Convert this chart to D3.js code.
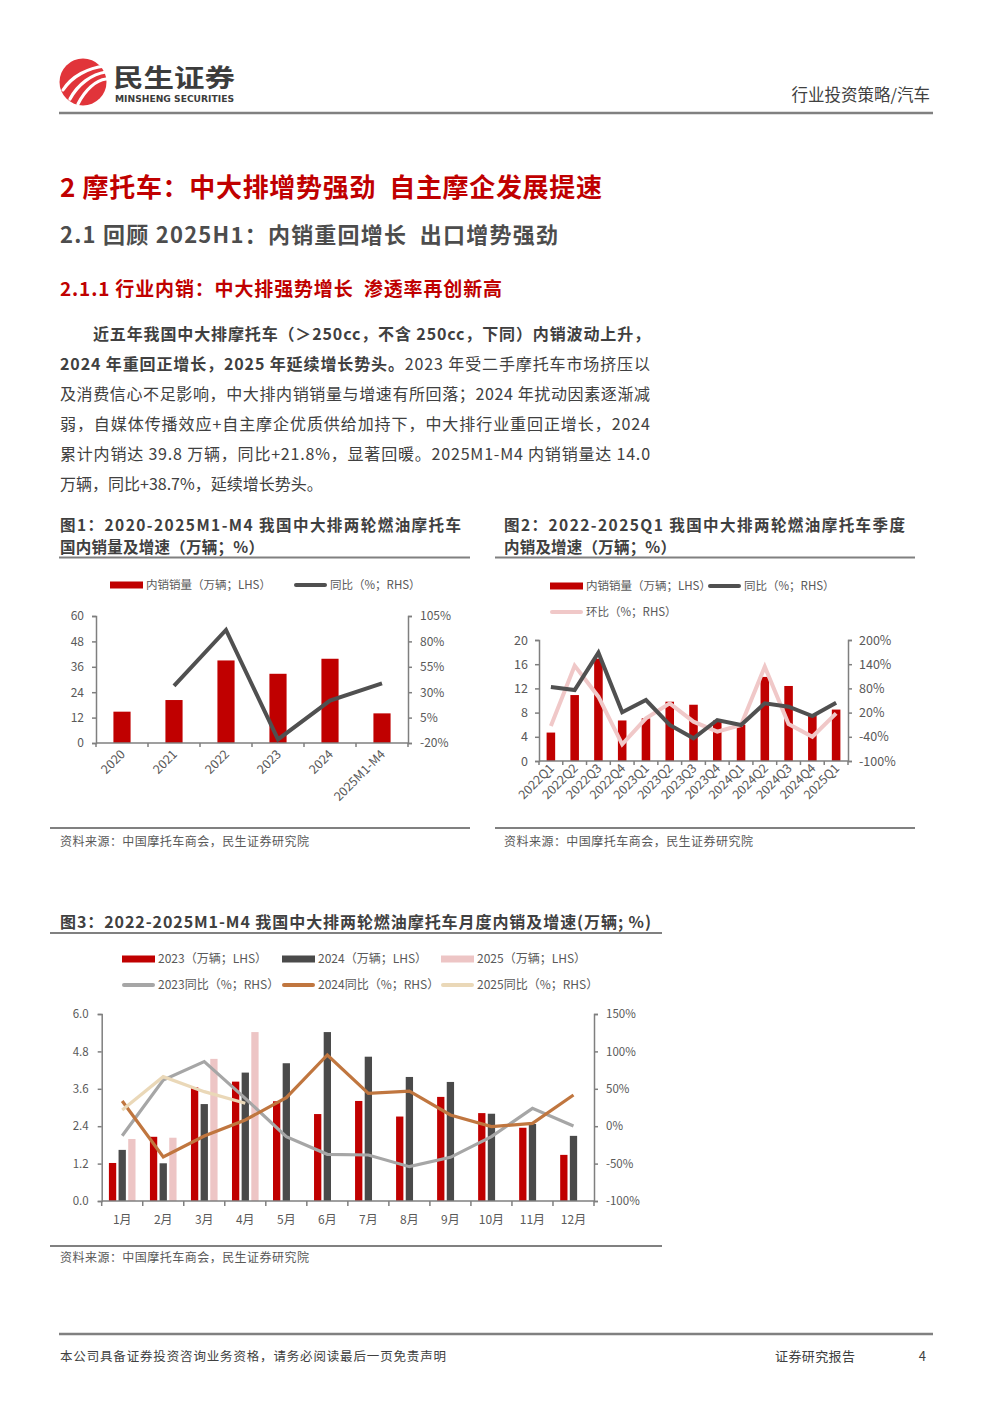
<!DOCTYPE html>
<html><head><meta charset="utf-8">
<script src="https://cdn.jsdelivr.net/npm/d3@7/dist/d3.min.js"></script>
<style>
html,body{margin:0;padding:0;background:#fff;}
svg{display:block;font-family:"Noto Sans CJK SC","Noto Sans",sans-serif;}
</style></head><body>
<svg id="page" width="992" height="1403"></svg>
<script>
// ---------- DATA ----------
const c1Categories = ["2020","2021","2022","2023","2024","2025M1-M4"];
const c1Sales = [14.8, 20.3, 39.0, 32.7, 39.8, 14.0];
const c1Yoy = [null, 36.3, 91.3, -16.5, 21.8, 38.7];
const c1LeftTicks = [0, 12, 24, 36, 48, 60];
const c1RightTicks = [-20, 5, 30, 55, 80, 105];

const c2Categories = ["2022Q1","2022Q2","2022Q3","2022Q4","2023Q1","2023Q2","2023Q3","2023Q4","2024Q1","2024Q2","2024Q3","2024Q4","2025Q1"];
const c2Sales = [4.7, 10.9, 16.9, 6.7, 7.05, 9.8, 9.3, 6.7, 6.0, 13.9, 12.4, 7.6, 8.5];
const c2Yoy = [83.5, 76, 168.6, 20.7, 51.2, -10.7, -43.8, 1.6, -10.7, 43, 34.7, 11.6, 44.6];
const c2Qoq = [-13.2, 136.4, 59.5, -58.7, 5.8, 43, -2.5, -27.3, -10.7, 133.9, -8.3, -39.7, 18.2];
const c2LeftTicks = [0, 4, 8, 12, 16, 20];
const c2RightTicks = [-100, -40, 20, 80, 140, 200];

const c3Months = ["1月","2月","3月","4月","5月","6月","7月","8月","9月","10月","11月","12月"];
const c3Sales2023 = [1.22, 2.06, 3.65, 3.83, 3.20, 2.79, 3.21, 2.71, 3.34, 2.82, 2.35, 1.48];
const c3Sales2024 = [1.64, 1.21, 3.11, 4.12, 4.42, 5.42, 4.63, 3.98, 3.82, 2.80, 2.47, 2.09];
const c3Sales2025 = [1.99, 2.03, 4.56, 5.42];
const c3Yoy2023 = [-12.7, 61.8, 86.3, 37.2, -14, -37.6, -38.5, -54.1, -41.6, -14, 23.9, 0.3];
const c3Yoy2024 = [33.7, -41.2, -13.1, 8.3, 38.1, 95.2, 43.9, 47, 15, -0.6, 3.8, 41.7];
const c3Yoy2025 = [21.6, 66.2, 46.2, 30.6];
const c3LeftTicks = [0, 1.2, 2.4, 3.6, 4.8, 6.0];
const c3RightTicks = [-100, -50, 0, 50, 100, 150];

// ---------- STYLE ----------
const RED = "#C00000", PINK = "#EDC5C5", GRAY = "#A6A6A6", BROWN = "#C0763F", BEIGE = "#EAD8B8";
const AX = "#7F7F7F", TXT = "#595959";

const svg = d3.select("#page");

function justify(sel, width) {
  const node = sel.node();
  const len = node.getComputedTextLength();
  const n = node.textContent.length;
  if (n > 1) sel.attr("letter-spacing", ((width - len) / (n - 1)).toFixed(3));
}

// ---------- HEADER ----------
const logo = svg.append("g");
logo.append("circle").attr("cx", 83).attr("cy", 82).attr("r", 23.5).attr("fill", "#E1343A");
const sw = [
  "M63,90 C72,76 88,68 105,66",
  "M70,99 C78,84 92,74 106,72",
  "M78,104 C85,90 96,80 106,79"
];
logo.selectAll("path.sw").data(sw).join("path").attr("d", d => d)
  .attr("fill", "none").attr("stroke", "#fff").attr("stroke-width", 3.2).attr("stroke-linecap", "round");
logo.append("text").attr("x", 113).attr("y", 86.5).attr("font-size", 25).attr("font-weight", 700)
  .attr("fill", "#3C3C3C").attr("textLength", 122).attr("lengthAdjust", "spacingAndGlyphs").text("民生证券");
logo.append("text").attr("x", 115).attr("y", 102).attr("font-size", 8.5).attr("font-weight", 700)
  .attr("fill", "#3C3C3C").attr("font-family", "'DejaVu Sans',sans-serif")
  .attr("textLength", 119).attr("lengthAdjust", "spacingAndGlyphs").text("MINSHENG SECURITIES");
svg.append("text").attr("x", 930).attr("y", 101).attr("text-anchor", "end").attr("font-size", 16.5)
  .attr("fill", "#404040").text("行业投资策略/汽车");
svg.append("line").attr("x1", 59).attr("x2", 933).attr("y1", 113).attr("y2", 113).attr("stroke", "#808080").attr("stroke-width", 2.5);

// ---------- HEADINGS ----------
svg.append("text").attr("x", 60).attr("y", 197).attr("font-size", 26).attr("font-weight", 700).attr("fill", RED)
  .attr("textLength", 542).attr("lengthAdjust", "spacing").attr("xml:space","preserve").text("2 摩托车：中大排增势强劲  自主摩企发展提速");
svg.append("text").attr("x", 60).attr("y", 243).attr("font-size", 22).attr("font-weight", 700).attr("fill", "#4D4D4D")
  .attr("textLength", 498).attr("lengthAdjust", "spacing").attr("xml:space","preserve").text("2.1 回顾 2025H1：内销重回增长  出口增势强劲");
svg.append("text").attr("x", 60).attr("y", 296).attr("font-size", 19).attr("font-weight", 700).attr("fill", RED)
  .attr("textLength", 442).attr("lengthAdjust", "spacing").attr("xml:space","preserve").text("2.1.1 行业内销：中大排强势增长  渗透率再创新高");

// ---------- PARAGRAPH ----------
const paraLines = [
  {x: 93, w: 557, parts: [["近五年我国中大排摩托车（＞250cc，不含 250cc，下同）内销波动上升，", true]]},
  {x: 60, w: 590, parts: [["2024 年重回正增长，2025 年延续增长势头。", true], ["2023 年受二手摩托车市场挤压以", false]]},
  {x: 60, w: 590, parts: [["及消费信心不足影响，中大排内销销量与增速有所回落；2024 年扰动因素逐渐减", false]]},
  {x: 60, w: 590, parts: [["弱，自媒体传播效应+自主摩企优质供给加持下，中大排行业重回正增长，2024", false]]},
  {x: 60, w: 590, parts: [["累计内销达 39.8 万辆，同比+21.8%，显著回暖。2025M1-M4 内销销量达 14.0", false]]},
  {x: 60, w: null, parts: [["万辆，同比+38.7%，延续增长势头。", false]]}
];
paraLines.forEach((ln, i) => {
  const t = svg.append("text").attr("x", ln.x).attr("y", 340 + i * 30).attr("font-size", 16).attr("fill", "#404040");
  ln.parts.forEach(p => t.append("tspan").attr("font-weight", p[1] ? 700 : 400).text(p[0]));
  if (ln.w) justify(t, ln.w);
});

// ---------- FIGURE TITLES / FRAMES ----------
function twoLineTitle(x, l1, w1, l2, w2) {
  const t = svg.append("text").attr("font-size", 15.5).attr("font-weight", 700).attr("fill", "#404040");
  t.append("tspan").attr("x", x).attr("y", 531).attr("textLength", w1).attr("lengthAdjust", "spacing").text(l1);
  t.append("tspan").attr("x", x).attr("y", 553).attr("textLength", w2).attr("lengthAdjust", "spacing").text(l2);
}
twoLineTitle(60, "图1：2020-2025M1-M4 我国中大排两轮燃油摩托车", 401, "国内销量及增速（万辆；%）", 204);
twoLineTitle(504, "图2：2022-2025Q1 我国中大排两轮燃油摩托车季度", 401, "内销及增速（万辆；%）", 172);
svg.append("text").attr("x", 60).attr("y", 928).attr("font-size", 16).attr("font-weight", 700).attr("fill", "#404040")
  .attr("textLength", 591).attr("lengthAdjust", "spacing").text("图3：2022-2025M1-M4 我国中大排两轮燃油摩托车月度内销及增速(万辆; %)");

function hline(x1, x2, y, w) {
  svg.append("line").attr("x1", x1).attr("x2", x2).attr("y1", y).attr("y2", y).attr("stroke", "#808080").attr("stroke-width", w || 2);
}
hline(59, 470, 557.5); hline(495, 915, 557.5);
hline(50, 470, 828); hline(495, 915, 828);
hline(50, 662, 933); hline(50, 662, 1246);

function srcText(x, y) {
  svg.append("text").attr("x", x).attr("y", y).attr("font-size", 12).attr("fill", TXT)
    .attr("textLength", 249).attr("lengthAdjust", "spacing").text("资料来源：中国摩托车商会，民生证券研究院");
}
srcText(60, 846); srcText(504, 846); srcText(60, 1262);

// ---------- FOOTER ----------
hline(59, 933, 1334, 2.5);
svg.append("text").attr("x", 60).attr("y", 1361).attr("font-size", 12.5).attr("fill", "#404040")
  .attr("textLength", 386).attr("lengthAdjust", "spacing").text("本公司具备证券投资咨询业务资格，请务必阅读最后一页免责声明");
svg.append("text").attr("x", 775).attr("y", 1361).attr("font-size", 13).attr("fill", "#404040")
  .attr("textLength", 80).attr("lengthAdjust", "spacing").text("证券研究报告");
svg.append("text").attr("x", 926).attr("y", 1361).attr("font-size", 13).attr("fill", "#404040").attr("text-anchor", "end").text("4");

// ---------- helpers ----------
function styleAxis(g, fs) {
  g.select(".domain").attr("stroke", AX).attr("stroke-width", 1.5);
  g.selectAll(".tick line").attr("stroke", AX).attr("stroke-width", 1.5);
  g.selectAll(".tick text").attr("fill", TXT).attr("font-size", fs).attr("font-family", "'Noto Sans CJK SC','Noto Sans',sans-serif");
}
function bandTicks(g, x, y0, len) {
  const bounds = x.domain().map(d => x(d)).concat([x.range()[1]]);
  g.append("line").attr("x1", x.range()[0]).attr("x2", x.range()[1]).attr("y1", y0).attr("y2", y0)
    .attr("stroke", AX).attr("stroke-width", 1.5);
  g.selectAll("line.bt").data(bounds).join("line").attr("class", "bt")
    .attr("x1", d => d).attr("x2", d => d).attr("y1", y0).attr("y2", y0 + len)
    .attr("stroke", AX).attr("stroke-width", 1.5);
}
function legRect(g, x, y, color, label, fs) {
  g.append("rect").attr("x", x).attr("y", y - 3.5).attr("width", 33).attr("height", 7).attr("fill", color);
  g.append("text").attr("x", x + 36).attr("y", y + 4).attr("font-size", fs).attr("fill", TXT).text(label);
}
function legLine(g, x, y, color, label, fs) {
  g.append("line").attr("x1", x + 2).attr("x2", x + 31).attr("y1", y).attr("y2", y).attr("stroke", color)
    .attr("stroke-width", 4).attr("stroke-linecap", "round");
  g.append("text").attr("x", x + 36).attr("y", y + 4).attr("font-size", fs).attr("fill", TXT).text(label);
}

// ---------- CHART 1 ----------
(function () {
  const g = svg.append("g");
  const x = d3.scaleBand().domain(c1Categories).range([96, 408]);
  const y = d3.scaleLinear().domain([0, 60]).range([743, 616]);
  const y2 = d3.scaleLinear().domain([-20, 105]).range([743, 616]);
  legRect(g, 110, 585, RED, "内销销量（万辆；LHS）", 11.5);
  legLine(g, 294, 585, "#505050", "同比（%；RHS）", 11.5);

  const bw = x.bandwidth() * 0.33;
  g.selectAll("rect.bar").data(c1Sales).join("rect").attr("class", "bar")
    .attr("x", (d, i) => x(c1Categories[i]) + (x.bandwidth() - bw) / 2)
    .attr("width", bw).attr("y", d => y(d)).attr("height", d => y(0) - y(d)).attr("fill", RED);

  const la = g.append("g").attr("transform", "translate(96,0)")
    .call(d3.axisLeft(y).tickValues(c1LeftTicks).tickSize(4).tickPadding(8).tickFormat(d3.format("d")));
  styleAxis(la, 12);
  const ra = g.append("g").attr("transform", "translate(408,0)")
    .call(d3.axisRight(y2).tickValues(c1RightTicks).tickSize(4).tickPadding(8).tickFormat(d => d + "%"));
  styleAxis(ra, 12);
  bandTicks(g, x, 743, 4);

  g.selectAll("text.xl").data(c1Categories).join("text").attr("class", "xl")
    .attr("transform", d => `translate(${x(d) + x.bandwidth() / 2 + 4},${755}) rotate(-45)`)
    .attr("text-anchor", "end").attr("font-size", 12.5).attr("fill", TXT).text(d => d);

  const line = d3.line().defined(d => d != null).x((d, i) => x(c1Categories[i]) + x.bandwidth() / 2).y(d => y2(d));
  g.append("path").datum(c1Yoy).attr("d", line).attr("fill", "none").attr("stroke", "#505050")
    .attr("stroke-width", 4);
})();

// ---------- CHART 2 ----------
(function () {
  const g = svg.append("g");
  const x = d3.scaleBand().domain(c2Categories).range([539, 848]);
  const y = d3.scaleLinear().domain([0, 20]).range([761, 640]);
  const y2 = d3.scaleLinear().domain([-100, 200]).range([761, 640]);
  legRect(g, 550, 586, RED, "内销销量（万辆；LHS）", 11.5);
  legLine(g, 708, 586, "#505050", "同比（%；RHS）", 11.5);
  legLine(g, 550, 612, "#F0C8C8", "环比（%；RHS）", 11.5);

  const bw = x.bandwidth() * 0.36;
  g.selectAll("rect.bar").data(c2Sales).join("rect").attr("class", "bar")
    .attr("x", (d, i) => x(c2Categories[i]) + (x.bandwidth() - bw) / 2)
    .attr("width", bw).attr("y", d => y(d)).attr("height", d => y(0) - y(d)).attr("fill", RED);

  const la = g.append("g").attr("transform", "translate(539,0)")
    .call(d3.axisLeft(y).tickValues(c2LeftTicks).tickSize(4).tickPadding(7).tickFormat(d3.format("d")));
  styleAxis(la, 12.5);
  const ra = g.append("g").attr("transform", "translate(848,0)")
    .call(d3.axisRight(y2).tickValues(c2RightTicks).tickSize(4).tickPadding(7).tickFormat(d => d + "%"));
  styleAxis(ra, 12.5);
  bandTicks(g, x, 761, 4);

  g.selectAll("text.xl").data(c2Categories).join("text").attr("class", "xl")
    .attr("transform", d => `translate(${x(d) + x.bandwidth() / 2 + 4},${769}) rotate(-45)`)
    .attr("text-anchor", "end").attr("font-size", 12.5).attr("fill", TXT).text(d => d);

  const line = d3.line().x((d, i) => x(c2Categories[i]) + x.bandwidth() / 2).y(d => y2(d));
  g.append("path").datum(c2Qoq).attr("d", line).attr("fill", "none").attr("stroke", "#F0C8C8").attr("stroke-width", 4);
  g.append("path").datum(c2Yoy).attr("d", line).attr("fill", "none").attr("stroke", "#505050").attr("stroke-width", 4);
})();

// ---------- CHART 3 ----------
(function () {
  const g = svg.append("g");
  const x = d3.scaleBand().domain(c3Months).range([101.7, 594]);
  const xs = d3.scaleBand().domain(["2023", "2024", "2025"]).range([0, x.bandwidth()]).paddingInner(0.244).paddingOuter(0.746);
  const y = d3.scaleLinear().domain([0, 6]).range([1201, 1014]);
  const y2 = d3.scaleLinear().domain([-100, 150]).range([1201, 1014]);

  legRect(g, 122, 959, RED, "2023（万辆；LHS）", 12);
  legRect(g, 282, 959, "#4A4A4A", "2024（万辆；LHS）", 12);
  legRect(g, 441, 959, PINK, "2025（万辆；LHS）", 12);
  legLine(g, 122, 985, GRAY, "2023同比（%；RHS）", 12);
  legLine(g, 282, 985, BROWN, "2024同比（%；RHS）", 12);
  legLine(g, 441, 985, BEIGE, "2025同比（%；RHS）", 12);

  const series = [["2023", c3Sales2023, RED], ["2024", c3Sales2024, "#4A4A4A"], ["2025", c3Sales2025, PINK]];
  series.forEach(([k, vals, col]) => {
    g.selectAll("rect.b" + k).data(vals).join("rect").attr("class", "b" + k)
      .attr("x", (d, i) => x(c3Months[i]) + xs(k)).attr("width", xs.bandwidth())
      .attr("y", d => y(d)).attr("height", d => y(0) - y(d)).attr("fill", col);
  });

  const la = g.append("g").attr("transform", "translate(101.7,0)")
    .call(d3.axisLeft(y).tickValues(c3LeftTicks).tickSize(4).tickPadding(9).tickFormat(d3.format(".1f")));
  styleAxis(la, 11.5);
  const ra = g.append("g").attr("transform", "translate(594,0)")
    .call(d3.axisRight(y2).tickValues(c3RightTicks).tickSize(4).tickPadding(8).tickFormat(d => d + "%"));
  styleAxis(ra, 11.5);
  bandTicks(g, x, 1201, 5);

  g.selectAll("text.xl").data(c3Months).join("text").attr("class", "xl")
    .attr("x", d => x(d) + x.bandwidth() / 2).attr("y", 1224).attr("text-anchor", "middle")
    .attr("font-size", 12).attr("fill", TXT).text(d => d);

  const line = d3.line().x((d, i) => x(c3Months[i]) + x.bandwidth() / 2).y(d => y2(d));
  [[c3Yoy2023, GRAY], [c3Yoy2024, BROWN], [c3Yoy2025, BEIGE]].forEach(([vals, col]) => {
    g.append("path").datum(vals).attr("d", line).attr("fill", "none").attr("stroke", col).attr("stroke-width", 3.2);
  });
})();
</script>
</body></html>
